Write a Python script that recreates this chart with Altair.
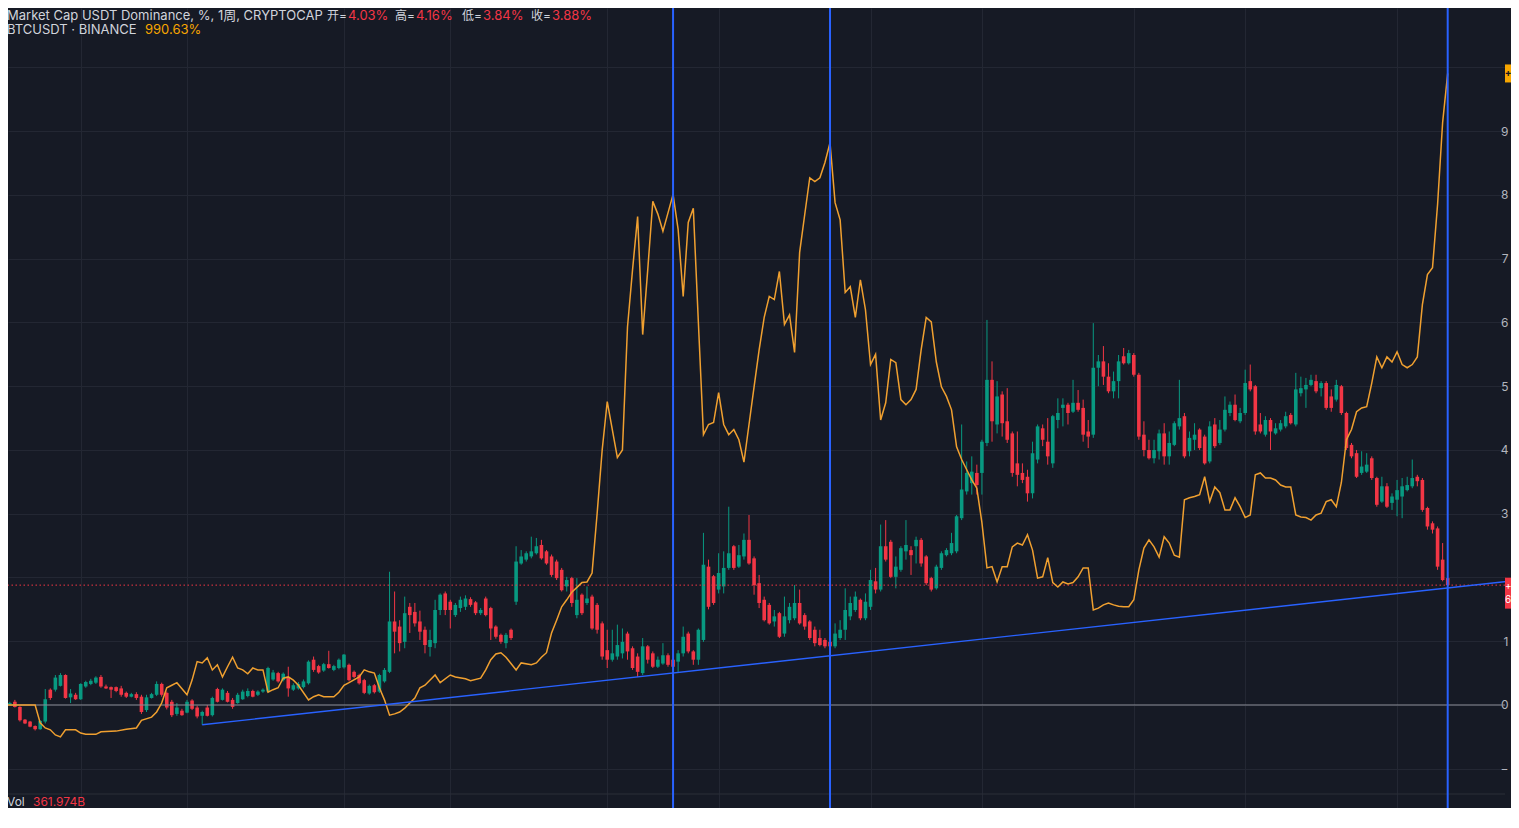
import altair as alt
import pandas as pd

# ---------------- data ----------------
# weekly USDT-dominance candles, % change vs first bar (index 0 = first week)
usdt_open = [
    1, 1, 5, -3, -23, -26, -33, -38, -26, 24,
    24, 30, 47, 12, 16, 9, 29, 33, 35, 44,
    29, 28, 28, 26, 19, 13, 17, 13, -8, 11,
    16, 33, 19, 5, -14, -9, -12, 7, -4, -17,
    -4, -16, 25, 8, 19, 8, 3, 9, 14, 22,
    16, 21, 21, 40, 50, 39, 44, 24, 26, 28,
    34, 71, 61, 54, 64, 55, 58, 59, 63, 52,
    47, 39, 18, 31, 21, 37, 52, 131, 123, 99,
    154, 146, 131, 118, 91, 97, 149, 175, 162, 141,
    152, 154, 166, 161, 144, 167, 152, 123, 110, 97,
    118, 162, 222, 228, 233, 238, 251, 241, 233, 225,
    212, 186, 199, 141, 173, 160, 170, 157, 128, 86,
    71, 76, 81, 112, 89, 76, 50, 92, 81, 60,
    65, 78, 71, 68, 81, 112, 84, 71, 102, 217,
    202, 181, 186, 215, 249, 217, 233, 259, 230, 191,
    165, 157, 131, 144, 112, 133, 136, 160, 141, 131,
    118, 105, 102, 99, 92, 105, 118, 139, 149, 165,
    136, 154, 194, 181, 249, 256, 201, 212, 241, 243,
    249, 259, 233, 199, 183, 215, 235, 238, 241, 293,
    335, 348, 364, 364, 411, 510, 440, 487, 445, 426,
    379, 364, 358, 332, 385, 434, 413, 379, 447, 466,
    471, 460, 474, 466, 429, 424, 529, 539, 515, 492,
    508, 547, 536, 549, 518, 424, 400, 387, 398, 426,
    390, 408, 437, 453, 398, 416, 432, 421, 382, 440,
    411, 432, 458, 471, 445, 458, 508, 500, 440, 424,
    447, 426, 432, 437, 455, 440, 489, 495, 502, 508,
    497, 505, 484, 479, 500, 458, 408, 395, 364, 366,
    387, 356, 319, 343, 317, 322, 327, 337, 343, 358,
    353, 309, 285, 277, 228, 199,
]
usdt_close = [
    5, 3, -3, -24, -29, -34, -38, -25, 9, 11,
    43, 47, 11, 18, 9, 33, 36, 38, 43, 29,
    26, 24, 22, 16, 13, 17, 11, -11, 12, 17,
    33, 16, -4, -16, -4, -16, 5, -6, -18, -11,
    -17, 11, 5, 24, 5, -3, 16, 21, 22, 13,
    21, 24, 58, 51, 37, 49, 26, 31, 33, 37,
    68, 55, 51, 64, 58, 61, 71, 79, 39, 44,
    34, 19, 30, 20, 47, 55, 131, 115, 97, 144,
    141, 128, 115, 94, 102, 149, 173, 149, 149, 157,
    165, 167, 157, 144, 149, 141, 120, 107, 99, 110,
    105, 225, 233, 238, 241, 249, 230, 222, 204, 199,
    180, 196, 160, 165, 144, 167, 120, 118, 76, 71,
    81, 94, 99, 84, 58, 52, 92, 71, 60, 71,
    78, 63, 60, 81, 107, 84, 71, 118, 220, 154,
    160, 207, 215, 238, 215, 235, 259, 222, 188, 160,
    133, 128, 139, 107, 139, 154, 160, 128, 123, 105,
    97, 94, 92, 92, 112, 118, 149, 160, 170, 136,
    162, 196, 181, 249, 228, 201, 217, 246, 251, 235,
    259, 222, 191, 181, 217, 238, 243, 254, 296, 338,
    364, 366, 345, 413, 510, 445, 484, 442, 416, 364,
    361, 353, 332, 395, 437, 416, 390, 453, 458, 471,
    458, 474, 463, 424, 421, 529, 539, 515, 492, 508,
    539, 536, 552, 518, 421, 400, 387, 400, 426, 390,
    411, 442, 450, 390, 419, 424, 403, 379, 437, 406,
    432, 463, 471, 447, 458, 505, 495, 429, 429, 447,
    429, 434, 442, 453, 442, 495, 497, 502, 510, 492,
    505, 466, 466, 502, 458, 403, 390, 358, 374, 377,
    356, 314, 343, 311, 327, 337, 343, 345, 356, 351,
    306, 280, 275, 217, 196, 188,
]
usdt_high = [
    11, 5, 8, -2, -22, -25, -32, -24, 25, 26,
    47, 50, 48, 25, 19, 34, 38, 41, 45, 47,
    32, 29, 29, 30, 21, 19, 20, 16, 16, 19,
    37, 35, 21, 8, 3, -6, 8, 9, -1, -9,
    0, 13, 27, 26, 22, 11, 19, 24, 26, 24,
    23, 26, 60, 55, 52, 51, 60, 34, 36, 40,
    70, 76, 63, 66, 85, 63, 73, 80, 65, 54,
    49, 41, 32, 33, 49, 58, 209, 178, 133, 170,
    160, 160, 148, 123, 118, 165, 175, 178, 165, 160,
    170, 172, 169, 163, 152, 170, 154, 125, 112, 113,
    120, 249, 243, 241, 264, 262, 259, 243, 236, 228,
    215, 201, 201, 199, 175, 186, 173, 160, 131, 118,
    118, 126, 120, 115, 92, 81, 105, 94, 84, 76,
    97, 81, 73, 86, 123, 115, 86, 120, 270, 228,
    204, 238, 241, 311, 251, 251, 269, 298, 233, 204,
    170, 160, 149, 146, 170, 160, 188, 181, 144, 133,
    123, 118, 105, 107, 128, 133, 183, 170, 178, 167,
    175, 212, 215, 283, 290, 259, 233, 249, 290, 249,
    264, 262, 235, 201, 220, 241, 246, 270, 298, 440,
    382, 390, 377, 416, 604, 539, 508, 492, 497, 429,
    429, 379, 369, 413, 440, 440, 450, 455, 481, 481,
    474, 510, 494, 479, 447, 599, 549, 563, 536, 523,
    549, 560, 557, 552, 521, 445, 416, 416, 432, 442,
    429, 445, 510, 458, 429, 442, 434, 424, 445, 450,
    447, 484, 476, 487, 466, 526, 534, 502, 458, 453,
    450, 442, 447, 460, 458, 521, 515, 513, 518, 518,
    508, 508, 495, 510, 502, 460, 411, 400, 398, 395,
    390, 358, 358, 348, 332, 353, 356, 358, 385, 361,
    356, 311, 288, 280, 254, 209,
]
usdt_low = [
    -1, 0, -4, -26, -30, -35, -40, -39, -29, 8,
    21, 29, 10, 3, 8, 8, 27, 31, 33, 27,
    25, 11, 20, 13, 11, 12, 8, -14, -11, 10,
    14, 13, -7, -19, -17, -17, -13, -8, -21, -31,
    -18, -18, 4, 7, 4, -6, 2, 8, 12, 12,
    14, 19, 19, 38, 35, 37, 13, 22, 24, 26,
    32, 52, 49, 52, 57, 53, 56, 57, 37, 42,
    32, 17, 16, 18, 19, 35, 50, 81, 84, 89,
    113, 123, 102, 81, 76, 89, 141, 141, 120, 138,
    146, 149, 154, 141, 141, 139, 102, 104, 96, 89,
    102, 157, 220, 225, 230, 236, 228, 220, 201, 196,
    178, 178, 154, 136, 141, 157, 118, 112, 71, 58,
    68, 71, 73, 71, 55, 44, 47, 65, 58, 58,
    63, 60, 55, 52, 76, 81, 63, 63, 99, 150,
    157, 175, 175, 212, 212, 215, 228, 220, 173, 152,
    131, 126, 123, 105, 107, 128, 133, 126, 118, 102,
    92, 92, 89, 78, 89, 102, 102, 133, 146, 133,
    133, 149, 175, 178, 225, 199, 183, 209, 228, 204,
    222, 217, 188, 178, 181, 212, 233, 235, 238, 290,
    330, 330, 330, 330, 406, 413, 426, 421, 411, 358,
    343, 348, 319, 324, 379, 406, 377, 372, 434, 437,
    440, 458, 460, 413, 403, 419, 500, 502, 489, 481,
    481, 534, 534, 515, 416, 390, 385, 379, 385, 377,
    377, 406, 432, 387, 390, 400, 400, 377, 379, 403,
    408, 429, 453, 445, 442, 455, 492, 424, 426, 421,
    400, 424, 429, 434, 440, 437, 484, 466, 500, 489,
    484, 463, 460, 476, 455, 400, 387, 356, 361, 364,
    353, 311, 317, 309, 306, 296, 293, 335, 340, 343,
    303, 275, 269, 212, 194, 185,
]

# BTCUSDT weekly close, % change vs first bar (week index, value)
btc_week = [
    0, 6, 7, 8, 9, 10, 11, 12, 14, 15, 16, 18, 19, 22, 24, 26, 27, 29, 30, 31,
    32, 33, 34, 36, 37, 38, 39, 40, 41, 42, 43, 44, 45, 46, 47, 48, 49, 50, 51, 52,
    53, 54, 55, 56, 57, 58, 60, 61, 62, 63, 65, 66, 67, 68, 70, 71, 72, 73, 74, 75,
    76, 77, 78, 79, 80, 81, 82, 83, 85, 86, 88, 89, 91, 92, 94, 95, 96, 97, 98, 99,
    101, 102, 104, 105, 106, 107, 108, 109, 110, 111, 112, 114, 115, 116, 117, 118, 119, 120, 121, 122,
    123, 124, 125, 126, 127, 128, 129, 130, 131, 132, 133, 134, 135, 136, 137, 138, 139, 140, 141, 142,
    143, 144, 145, 146, 147, 148, 149, 150, 151, 152, 153, 154, 155, 156, 157, 158, 159, 160, 161, 162,
    163, 164, 165, 166, 167, 168, 169, 170, 171, 172, 173, 174, 175, 176, 177, 178, 179, 180, 181, 182,
    183, 184, 185, 186, 187, 188, 189, 190, 191, 192, 193, 194, 195, 196, 197, 198, 199, 200, 201, 202,
    203, 204, 205, 206, 207, 208, 209, 210, 211, 212, 213, 214, 215, 216, 217, 218, 219, 220, 221, 222,
    223, 224, 225, 226, 227, 228, 229, 230, 231, 232, 233, 234, 235, 236, 237, 238, 239, 240, 241, 242,
    243, 244, 245, 246, 247, 248, 249, 250, 251, 252, 253, 254, 255, 256, 257, 258, 259, 260, 261, 262,
    263, 264, 265, 266, 267, 268, 269, 270, 271, 272, 273, 274, 275, 276, 277, 278, 279, 280, 281, 282,
    283, 284, 285,
]
btc_pct = [
    0, 0, -28, -36, -39, -47, -50, -39, -39, -44, -46, -46, -42, -41, -38, -36, -24, -19, -11, 3,
    27, 31, 35, 16, 39, 68, 66, 74, 55, 63, 44, 60, 75, 58, 55, 49, 58, 55, 55, 20,
    24, 27, 42, 44, 39, 31, 8, 13, 16, 13, 13, 20, 31, 35, 44, 55, 52, 50, 27, 8,
    -16, -14, -11, -5, 3, 11, 27, 31, 47, 35, 47, 44, 41, 38, 42, 55, 71, 80, 82, 75,
    55, 66, 63, 66, 75, 82, 113, 133, 154, 165, 177, 192, 193, 207, 300, 400, 476, 432, 388, 400,
    593, 683, 766, 581, 683, 790, 770, 743, 772, 801, 746, 641, 757, 779, 600, 424, 440, 443, 490, 440,
    424, 432, 416, 381, 440, 499, 557, 608, 641, 636, 680, 597, 612, 553, 710, 769, 827, 821, 827, 851,
    882, 788, 761, 647, 656, 608, 667, 620, 534, 550, 447, 474, 542, 537, 479, 471, 479, 495, 557, 608,
    601, 538, 499, 484, 463, 405, 385, 369, 353, 340, 286, 215, 217, 193, 217, 217, 248, 254, 251, 267,
    243, 199, 201, 231, 192, 185, 193, 190, 192, 201, 215, 215, 149, 152, 157, 160, 157, 155, 154, 154,
    165, 212, 246, 259, 248, 232, 264, 254, 235, 232, 322, 325, 327, 330, 358, 319, 342, 333, 306, 306,
    325, 311, 294, 298, 361, 364, 356, 356, 353, 345, 342, 342, 298, 295, 294, 290, 298, 301, 319, 322,
    311, 349, 416, 432, 460, 466, 468, 505, 546, 529, 546, 538, 554, 534, 529, 534, 546, 628, 675, 686,
    785, 914, 990.63,
]

marker_weeks = [132, 163, 285]          # drawn vertical markers
trend_week = [39, 298]                  # drawn trend line anchors
trend_pct = [-31, 195]
time_grid_weeks = [15, 36, 67, 88, 119, 141, 171, 193, 223, 245, 275]
pct_ticks = [-100, 0, 100, 200, 300, 400, 500, 600, 700, 800, 900, 1000]

legend1_text = ["Market Cap USDT Dominance, %, 1周, CRYPTOCAP", "开=", "4.03%", "高=", "4.16%",
                "低=", "3.84%", "收=", "3.88%"]
legend2_text = ["BTCUSDT · BINANCE", "990.63%"]
# only the first glyphs of the right-edge price tags are visible in the screenshot
btc_tag_label = "+"
usdt_tag_labels = ["+", "6"]
vol_text = ["Vol", "361.974B"]

assert len(usdt_open) == len(usdt_close) == len(usdt_high) == len(usdt_low) == 286
assert len(btc_week) == len(btc_pct)

# ---------------- styling ----------------
BG = "#161a25"
GRID = "#232733"
UP = "#089981"
DOWN = "#f23645"
ORANGE = "#f0a030"
BLUE = "#2962ff"
TEXT = "#d1d4dc"
FONT = "Inter, 'Noto Sans CJK SC', sans-serif"

W, H = 1497, 800
xscale = alt.Scale(domain=[1.63, 295.33], nice=False, zero=False)
yscale = alt.Scale(domain=[-161.6, 1093.3], nice=False, zero=False)
# the right scale is cropped in the screenshot: only the leading glyph of each label shows;
# labels at 200% and 1000% sit under the price tags
yax = alt.Axis(orient="right", values=pct_ticks, grid=True, gridColor=GRID, gridWidth=1,
               ticks=False, domain=False, title=None, labelPadding=3, labelColor="#b2b5be",
               labelFontSize=12, labelFont=FONT, labelAlign="right", labelBaseline="middle",
               labelExpr="(datum.value == 200 || datum.value == 1000) ? '' : "
                         "(datum.value < 0 ? '−' : substring(toString(datum.value), 0, 1))")
xax = alt.Axis(values=time_grid_weeks, grid=True, gridColor=GRID, gridWidth=1,
               labels=False, ticks=False, domain=False, title=None)

X = alt.X("week:Q", scale=xscale, axis=xax)


def Y(field):
    return alt.Y(field, type="quantitative", scale=yscale, axis=yax)


candles = pd.DataFrame({
    "week": list(range(len(usdt_open))),
    "open": usdt_open, "high": usdt_high, "low": usdt_low, "close": usdt_close,
})
btc = pd.DataFrame({"week": btc_week, "pct": btc_pct})
one = pd.DataFrame({"k": [0]})

ccolor = alt.condition("datum.close >= datum.open", alt.value(UP), alt.value(DOWN))

wicks = alt.Chart(candles).mark_rule(strokeWidth=1, clip=True).encode(
    x=X, y=Y("low"), y2="high:Q", color=ccolor)
bodies = alt.Chart(candles).mark_bar(size=3.6, clip=True).encode(
    x=X, y=Y("open"), y2="close:Q", color=ccolor)

zero_line = alt.Chart(pd.DataFrame({"pct": [0]})).mark_rule(
    color="#8a8d96", strokeWidth=1).encode(y=Y("pct"))
last_line = alt.Chart(pd.DataFrame({"pct": [usdt_close[-1]]})).mark_rule(
    color=DOWN, strokeWidth=1, strokeDash=[1.5, 2.5]).encode(y=Y("pct"))
divider = alt.Chart(one).mark_rule(color="#2a2e39", strokeWidth=1).encode(y=alt.value(786))

btc_line = alt.Chart(btc).mark_line(color=ORANGE, strokeWidth=1.5, clip=True).encode(
    x=X, y=Y("pct"))

markers = alt.Chart(pd.DataFrame({"week": marker_weeks})).mark_rule(
    color=BLUE, strokeWidth=2).encode(x=X)
trend = alt.Chart(pd.DataFrame({"week": trend_week, "pct": trend_pct})).mark_line(
    color=BLUE, strokeWidth=1.4).encode(x=X, y=Y("pct"))

# price tags on the right scale (cut off by the edge, as in the screenshot)
btc_df = pd.DataFrame({"pct": [btc_pct[-1]]})
usdt_df = pd.DataFrame({"pct": [usdt_close[-1]]})
btc_tag = alt.Chart(btc_df).mark_tick(
    orient="vertical", size=18, thickness=14, color="#f7a600", opacity=1).encode(
    x=alt.value(1504), y=Y("pct"))
btc_tag_text = alt.Chart(btc_df).mark_text(
    align="center", baseline="middle", font=FONT, fontSize=10, fontWeight="bold",
    color="#131722").encode(
    x=alt.value(1500.2), y=Y("pct"), text=alt.value(btc_tag_label))
usdt_tag = alt.Chart(usdt_df).mark_tick(
    orient="vertical", size=31, thickness=14, color=DOWN, opacity=1, yOffset=8).encode(
    x=alt.value(1504), y=Y("pct"))
usdt_tag_text = alt.Chart(usdt_df).mark_text(
    align="center", baseline="middle", font=FONT, fontSize=10, color="#ffffff", dy=1).encode(
    x=alt.value(1500.2), y=Y("pct"), text=alt.value(usdt_tag_labels[0]))
usdt_tag_text2 = alt.Chart(usdt_df).mark_text(
    align="center", baseline="middle", font=FONT, fontSize=10, color="#ffffff", dy=15).encode(
    x=alt.value(1500.2), y=Y("pct"), text=alt.value(usdt_tag_labels[1]))

# legend texts (top-left) and volume pane label
legend1_x = [-1, 339, 340, 407, 408, 474, 475, 543, 544]
legend1_align = ["left", "right", "left", "right", "left", "right", "left", "right", "left"]
legend1_size = [13, 12, 13, 12, 13, 12, 13, 12, 13]
legend1_color = [TEXT, TEXT, DOWN, TEXT, DOWN, TEXT, DOWN, TEXT, DOWN]
legend2_x = [-1, 137]
legend2_color = [TEXT, "#f7a600"]
vol_x = [-1, 25]
vol_color = [TEXT, DOWN]

texts = []
for t, xx, al, fs, cc in zip(legend1_text, legend1_x, legend1_align, legend1_size, legend1_color):
    texts.append(alt.Chart(one).mark_text(align=al, baseline="middle", font=FONT,
                                          fontSize=fs, color=cc).encode(
        x=alt.value(xx), y=alt.value(8), text=alt.value(t)))
for t, xx, cc in zip(legend2_text, legend2_x, legend2_color):
    texts.append(alt.Chart(one).mark_text(align="left", baseline="middle", font=FONT,
                                          fontSize=13, color=cc).encode(
        x=alt.value(xx), y=alt.value(22), text=alt.value(t)))
for t, xx, cc in zip(vol_text, vol_x, vol_color):
    texts.append(alt.Chart(one).mark_text(align="left", baseline="alphabetic", font=FONT,
                                          fontSize=12, color=cc).encode(
        x=alt.value(xx), y=alt.value(798), text=alt.value(t)))

chart = alt.layer(
    wicks, bodies, zero_line, last_line, divider, btc_line, markers, trend,
    btc_tag, btc_tag_text, usdt_tag, usdt_tag_text, usdt_tag_text2, *texts
).properties(
    width=W, height=H,
    autosize=alt.AutoSizeParams(type="none"),
    padding={"left": 0, "top": 0, "right": 6, "bottom": 0},
).configure(background=BG).configure_view(stroke=None)

chart.save("out.html", embed_options={"renderer": "svg", "actions": False})
